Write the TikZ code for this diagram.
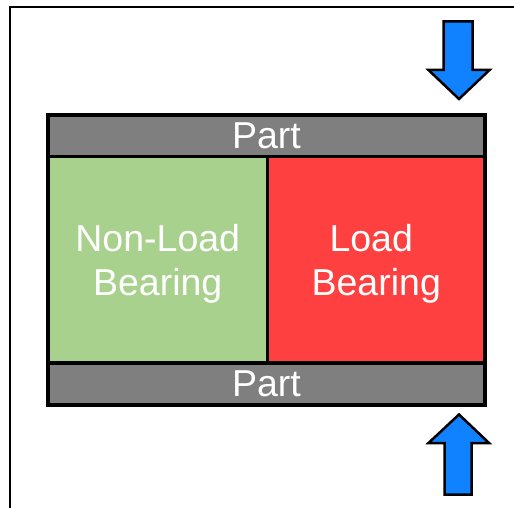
\documentclass[tikz,border=0pt]{standalone}
\usepackage{fontspec}
\setmainfont{Liberation Sans}
\definecolor{partgray}{RGB}{127,127,127}
\definecolor{nlbgreen}{RGB}{169,209,142}
\definecolor{lbred}{RGB}{255,64,64}
\definecolor{forceblue}{RGB}{16,130,255}
\tikzset{
  region/.style={draw=black, line width=3.5pt, inner sep=0pt, outer sep=0pt,
    text=white, align=center, text depth=0pt,
    font=\fontsize{37.5}{43.5}\selectfont},
  force/.style={draw=black, line width=2.5pt, fill=forceblue, line join=miter},
  frameline/.style={draw=black, line width=2.5pt}
}
\begin{document}
\begin{tikzpicture}[x=1pt,y=-1pt]
  \useasboundingbox (0,0) rectangle (514,508);
  % open frame
  \coordinate (fb) at (10,508);
  \coordinate (fc) at (10,7);
  \coordinate (fr) at (514,7);
  \draw[frameline] (fb) -- (fc) -- (fr);
  % layers of the joint
  \node[region, fill=partgray, minimum width=437pt, minimum height=41.5pt] (toppart) at (266.5,135.75) {Part};
  \node[region, fill=nlbgreen, minimum width=219.5pt, minimum height=206.5pt] (nlb) at (157.75,259.75) {Non-Load\\Bearing};
  \node[region, fill=lbred, minimum width=217.5pt, minimum height=206.5pt] (lb) at (376.25,259.75) {Load\kern10pt\\Bearing};
  \node[region, fill=partgray, minimum width=437pt, minimum height=42pt] (botpart) at (266.5,384) {Part};
  % clamping forces
  \draw[force] (443.5,21.5) -- (472.5,21.5) -- (472.5,70) -- (489.5,70) -- (459,99)
    -- (428.5,70) -- (443.5,70) -- cycle;
  \draw[force] (444.5,494.5) -- (471.5,494.5) -- (471.5,443) -- (489,443) -- (459,414.5)
    -- (428.5,443) -- (444.5,443) -- cycle;
\end{tikzpicture}
\end{document}
